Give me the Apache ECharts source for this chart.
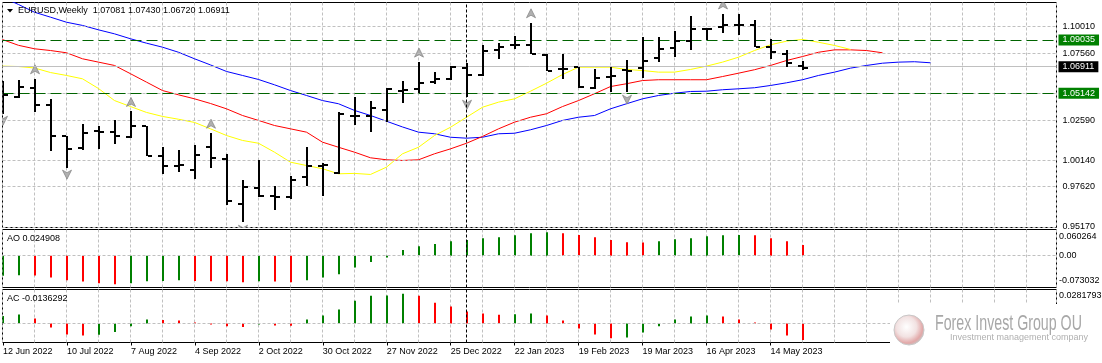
<!DOCTYPE html>
<html><head><meta charset="utf-8">
<script src="https://cdn.jsdelivr.net/npm/echarts@6/dist/echarts.min.js"></script>
<style>html,body{margin:0;padding:0;background:#fff}#c{width:1102px;height:363px}</style>
</head><body><div id="c"></div>
<script>
const symbolName = 'EURUSD,Weekly';
const dateLabels = ['12 Jun 2022','10 Jul 2022','7 Aug 2022','4 Sep 2022','2 Oct 2022','30 Oct 2022','27 Nov 2022','25 Dec 2022','22 Jan 2023','19 Feb 2023','19 Mar 2023','16 Apr 2023','14 May 2023'];
const open = [1.0506,1.0476,1.0539,1.0414,1.0177,1.0089,1.0216,1.0214,1.0171,1.0252,1.0029,0.9959,0.9927,1.0096,1.0009,0.9672,0.9789,0.9727,0.9720,0.9872,0.9954,0.9902,1.0329,1.0327,1.0377,1.0521,1.0534,1.0584,1.0604,1.0692,1.0641,1.0826,1.0864,1.0864,1.0784,1.0679,1.0696,1.0542,1.0626,1.0677,1.0689,1.0766,1.0838,1.0896,1.0984,1.0996,1.1014,1.1014,1.0846,1.0796,1.07081];
const high = [1.0596,1.0602,1.0609,1.0459,1.0184,1.0272,1.0259,1.0297,1.0364,1.0259,1.0096,1.0077,1.0114,1.0201,1.0047,0.9852,0.9997,0.9809,0.9877,1.0096,0.9977,1.0359,1.0476,1.0446,1.0542,1.0596,1.0734,1.0659,1.0704,1.0729,1.0866,1.0876,1.0928,1.1029,1.0797,1.0796,1.0701,1.0684,1.0701,1.0752,1.0926,1.0926,1.0971,1.1078,1.0991,1.1095,1.1091,1.1051,1.0904,1.0826,1.07430];
const low = [1.0351,1.0467,1.0359,1.0066,0.9947,1.0079,1.0089,1.0117,1.0159,1.0032,0.9897,0.9909,0.9860,0.9939,0.9665,0.9534,0.9722,0.9629,0.9702,0.9804,0.9727,0.9892,1.0267,1.0216,1.0284,1.0434,1.0501,1.0572,1.0596,1.0471,1.0634,1.0754,1.0834,1.0796,1.0666,1.0609,1.0542,1.0534,1.0516,1.0509,1.0621,1.0741,1.0776,1.0821,1.0901,1.0951,1.0934,1.0846,1.0754,1.0696,1.06720];
const close = [1.0489,1.0546,1.0416,1.0184,1.0084,1.0201,1.0214,1.0177,1.0257,1.0034,0.9959,0.9961,1.0039,1.0017,0.9692,0.9797,0.9734,0.9722,0.9854,0.9959,0.9960,1.0347,1.0331,1.0389,1.0534,1.0523,1.0576,1.0604,1.0696,1.0641,1.0821,1.0846,1.0866,1.0797,1.0671,1.0681,1.0546,1.0617,1.0628,1.0666,1.0746,1.0829,1.0896,1.0979,1.0986,1.1009,1.1016,1.0848,1.0808,1.0729,1.06911];
const lips = [1.0704,1.0701,1.0690,1.0656,1.0634,1.0609,1.0536,1.0446,1.0401,1.0357,1.0327,1.0306,1.0282,1.0234,1.0184,1.0147,1.0126,1.0059,0.9984,0.9959,0.9935,0.9897,0.9900,0.9892,0.9947,1.0047,1.0096,1.0184,1.0246,1.0321,1.0396,1.0434,1.0459,1.0516,1.0576,1.0641,1.0696,1.0696,1.0696,1.0679,1.0671,1.0659,1.0659,1.0679,1.0704,1.0734,1.0771,1.0821,1.0864,1.0891,1.0904,1.0883,1.0859,1.0829];
const teeth = [1.0903,1.0860,1.0834,1.0821,1.0804,1.0759,1.0734,1.0709,1.0647,1.0584,1.0521,1.0489,1.0459,1.0424,1.0384,1.0334,1.0297,1.0259,1.0234,1.0209,1.0134,1.0096,1.0059,1.0017,1.0002,0.9997,1.0002,1.0047,1.0084,1.0126,1.0177,1.0234,1.0284,1.0321,1.0347,1.0401,1.0446,1.0497,1.0551,1.0572,1.0596,1.0602,1.0602,1.0602,1.0602,1.0626,1.0651,1.0677,1.0709,1.0746,1.0776,1.0808,1.0826,1.0826,1.0821,1.0804];
const jaw = [1.1220,1.1166,1.1108,1.1071,1.1033,1.1009,1.0976,1.0946,1.0909,1.0876,1.0846,1.0808,1.0759,1.0713,1.0664,1.0634,1.0604,1.0564,1.0521,1.0484,1.0446,1.0422,1.0372,1.0334,1.0291,1.0248,1.0209,1.0197,1.0171,1.0164,1.0171,1.0197,1.0201,1.0227,1.0259,1.0297,1.0321,1.0334,1.0384,1.0422,1.0459,1.0484,1.0501,1.0514,1.0516,1.0527,1.0534,1.0542,1.0559,1.0579,1.0602,1.0634,1.0659,1.0689,1.0709,1.0726,1.0734,1.0737,1.0729];
const aoValues = [-0.0463,-0.0448,-0.0452,-0.0502,-0.0563,-0.0594,-0.0633,-0.0656,-0.0633,-0.0586,-0.0583,-0.0563,-0.0580,-0.0584,-0.0588,-0.0610,-0.0586,-0.0590,-0.0610,-0.0563,-0.0502,-0.0424,-0.0270,-0.0147,-0.0039,0.0131,0.0216,0.0270,0.0332,0.0363,0.0401,0.0424,0.0471,0.0517,0.0540,0.0517,0.0478,0.0424,0.0363,0.0309,0.0305,0.0332,0.0378,0.0401,0.0448,0.0468,0.0475,0.0471,0.0401,0.0332,0.024908];
const acValues = [0.0063,0.0074,0.0041,-0.0033,-0.0091,-0.0099,-0.0094,-0.0071,-0.0022,0.0033,0.0030,0.0025,0.0008,-0.0005,-0.0022,-0.0030,-0.0005,-0.0016,-0.0019,0.0033,0.0066,0.0115,0.0189,0.0230,0.0232,0.0247,0.0230,0.0173,0.0140,0.0099,0.0082,0.0073,0.0076,0.0082,0.0066,0.0025,-0.0041,-0.0091,-0.0123,-0.0115,-0.0074,-0.0022,0.0033,0.0058,0.0066,0.0058,0.0033,0.0008,-0.0049,-0.0099,-0.0136292];
const fractalUp = [2,8,13,26,33,45];
const fractalDown = [0,4,15,29,39];
const priceTicks = [1.10010,1.07560,1.05080,1.02590,1.00140,0.97620,0.95170];
const priceTickLabels = ['1.10010','1.07560','','1.02590','1.00140','0.97620','0.95170'];
const levelLines = [1.09035,1.05142];
const separatorBar = 29;
const aoAxisLabels = ['0.060264','0.00','-0.073032'];
const acAxisLabels = ['0.0281793'];

const FONT = "'Liberation Sans', Arial, sans-serif";
const GREEN = '#008000', RED = '#ff0000';
const X_MAX = 65.875;
const last = close.length - 1;

const ohlcData = open.map((o,i)=>[i,o,high[i],low[i],close[i]]);
const aoData = aoValues.map((v,i)=>[i,v,(i===0||v>=aoValues[i-1])?1:0]);
const acData = acValues.map((v,i)=>[i,v,(i===0||v>=acValues[i-1])?1:0]);

function clipOf(params){const c=params.coordSys;return {type:'rect',shape:{x:c.x,y:c.y,width:c.width,height:c.height}};}

function renderOHLC(params, api){
  const i=api.value(0);
  const pO=api.coord([i,api.value(1)]), pH=api.coord([i,api.value(2)]), pL=api.coord([i,api.value(3)]), pC=api.coord([i,api.value(4)]);
  const x=Math.round(pO[0]);
  return {type:'group', clipPath:clipOf(params), children:[
    {type:'rect',shape:{x:x-1,y:Math.round(pH[1]),width:2,height:Math.max(1,Math.round(pL[1]-pH[1]))},style:{fill:'#000'}},
    {type:'rect',shape:{x:x-5,y:Math.round(pO[1])-1,width:4,height:2},style:{fill:'#000'}},
    {type:'rect',shape:{x:x+1,y:Math.round(pC[1])-1,width:4,height:2},style:{fill:'#000'}}
  ]};
}
function renderHist(params, api){
  const i=api.value(0), v=api.value(1);
  const p0=api.coord([i,0]), p1=api.coord([i,v]);
  const x=Math.round(p0[0]);
  return {type:'rect', clipPath:clipOf(params), shape:{x:x-1,y:Math.min(p0[1],p1[1]),width:2,height:Math.max(1,Math.abs(p1[1]-p0[1]))},style:{fill:api.value(2)?GREEN:RED}};
}
function renderFractal(dir){
  return function(params, api){
    const p=api.coord([api.value(0),api.value(1)]);
    const cx=Math.round(p[0]);
    let pts;
    if(dir>0){const cy=p[1]-9.5;pts=[[cx,cy-4.5],[cx+4.5,cy+4.5],[cx,cy+2],[cx-4.5,cy+4.5]];}
    else{const cy=p[1]+7.5;pts=[[cx-4.5,cy-4.5],[cx,cy-2],[cx+4.5,cy-4.5],[cx,cy+4.5]];}
    return {type:'polygon', clipPath:clipOf(params), shape:{points:pts}, style:{fill:'#b0b0b0',stroke:'#808080',lineWidth:0.7}};
  };
}

const dashGray = {color:'#c0c0c0',type:[3,2],width:1};
const sepLine = {xAxis:separatorBar, lineStyle:{color:'#000',type:[3,2],width:1}, label:{show:false}};

const splitX = gi => ({type:'value',gridIndex:gi,min:0,max:X_MAX,interval:2,axisLine:{show:false},axisTick:{show:false},axisLabel:{show:false},splitLine:{show:true,lineStyle:dashGray}});
const hiddenY = (gi,min,max) => ({type:'value',gridIndex:gi,min:min,max:max,position:'right',axisLine:{show:false},axisTick:{show:false},axisLabel:{show:false},splitLine:{show:false}});

const option = {
  animation:false,
  backgroundColor:'#fff',
  textStyle:{fontFamily:FONT},
  grid:[
    {left:2.5,top:2.5,width:1054,height:225,show:true,borderColor:'#000',borderWidth:1},
    {left:2.5,top:229.5,width:1054,height:58,show:true,borderColor:'#000',borderWidth:1},
    {left:2.5,top:289.5,width:1054,height:53,show:true,borderColor:'#000',borderWidth:1},
    {left:2.5,top:289.5,width:768,height:53,show:false}
  ],
  xAxis:[splitX(0),splitX(1),splitX(2),
    {type:'value',gridIndex:3,min:0,max:48,interval:4,position:'bottom',axisLine:{show:false},splitLine:{show:false},
     axisTick:{show:true,length:3,lineStyle:{color:'#000'}},
     axisLabel:{show:true,margin:5,fontSize:9,color:'#000',fontFamily:FONT,align:'left',showMinLabel:true,showMaxLabel:true,hideOverlap:false,
       formatter:function(v){const k=Math.round(v/4);return (Math.abs(v-4*k)<1e-6&&k<dateLabels.length)?dateLabels[k]:'';}}}
  ],
  yAxis:[hiddenY(0,0.94945,1.11809),hiddenY(1,-0.073032,0.060264),hiddenY(2,-0.015747,0.0281793),{type:'value',gridIndex:3,show:false,min:0,max:1}],
  series:[
    {type:'line',xAxisIndex:0,yAxisIndex:0,data:[],z:1,silent:true,
     markLine:{silent:true,symbol:['none','none'],animation:false,
       data:priceTicks.map((v,k)=>({yAxis:v,lineStyle:dashGray,
         label:priceTickLabels[k]?{show:true,position:'end',distance:6,formatter:priceTickLabels[k],color:'#000',fontSize:9,fontFamily:FONT}:{show:false}}))}},
    {type:'line',xAxisIndex:0,yAxisIndex:0,data:[],z:2,silent:true,
     markLine:{silent:true,symbol:['none','none'],animation:false,
       data:[
         {yAxis:close[last],lineStyle:{color:'#c0c0c0',type:'solid',width:1},
          label:{show:true,position:'end',distance:2,formatter:close[last].toFixed(5),color:'#fff',backgroundColor:'#000',padding:[1,4,0,4],lineHeight:10,fontSize:9,fontFamily:FONT}},
         ...levelLines.map(v=>({yAxis:v,lineStyle:{color:'#006400',type:[11,5],width:1},
          label:{show:true,position:'end',distance:2,formatter:v.toFixed(5),color:'#fff',backgroundColor:'#008000',padding:[1,4,0,4],lineHeight:10,fontSize:9,fontFamily:FONT}})),
         sepLine
       ]}},
    {type:'line',xAxisIndex:0,yAxisIndex:0,data:jaw.map((v,i)=>[i,v]),showSymbol:false,symbol:'none',z:3,lineStyle:{color:'#0000ff',width:1},silent:true},
    {type:'line',xAxisIndex:0,yAxisIndex:0,data:teeth.map((v,i)=>[i,v]),showSymbol:false,symbol:'none',z:3,lineStyle:{color:'#ff0000',width:1},silent:true},
    {type:'line',xAxisIndex:0,yAxisIndex:0,data:lips.map((v,i)=>[i,v]),showSymbol:false,symbol:'none',z:3,lineStyle:{color:'#ffff00',width:1},silent:true},
    {type:'custom',xAxisIndex:0,yAxisIndex:0,data:fractalUp.map(i=>[i,high[i]]),renderItem:renderFractal(1),z:4,silent:true},
    {type:'custom',xAxisIndex:0,yAxisIndex:0,data:fractalDown.map(i=>[i,low[i]]),renderItem:renderFractal(-1),z:4,silent:true},
    {type:'custom',xAxisIndex:0,yAxisIndex:0,data:ohlcData,renderItem:renderOHLC,z:5,silent:true},
    {type:'custom',xAxisIndex:1,yAxisIndex:1,data:aoData,renderItem:renderHist,z:3,silent:true,
     markLine:{silent:true,symbol:['none','none'],animation:false,data:[{yAxis:0,lineStyle:dashGray,label:{show:false}},sepLine]}},
    {type:'custom',xAxisIndex:2,yAxisIndex:2,data:acData,renderItem:renderHist,z:3,silent:true,
     markLine:{silent:true,symbol:['none','none'],animation:false,data:[{yAxis:0,lineStyle:dashGray,label:{show:false}},sepLine]}}
  ]
};

const chart = echarts.init(document.getElementById('c'), null, {renderer:'canvas',width:1102,height:363});
chart.setOption(option);

const aoTop = chart.convertToPixel({yAxisIndex:1}, 0.060264);
const aoZero = chart.convertToPixel({yAxisIndex:1}, 0);
const aoBot = chart.convertToPixel({yAxisIndex:1}, -0.073032);
const acTop = chart.convertToPixel({yAxisIndex:2}, 0.0281793);
const txt = (x,y,t,extra) => Object.assign({type:'text',x:x,y:y,silent:true,z:50,style:Object.assign({text:t,fill:'#000',font:'9px '+FONT,textVerticalAlign:'middle'},extra||{})});

chart.setOption({graphic:[
  {type:'polygon',silent:true,z:50,shape:{points:[[7,9],[13,9],[10,12.5]]},style:{fill:'#000'}},
  txt(18,11,symbolName+'  '+[open[last],high[last],low[last],close[last]].map(v=>v.toFixed(5)).join(' ')),
  txt(7,239,'AO '+aoValues[last]),
  txt(7,299,'AC '+acValues[last]),
  txt(1059,aoTop+7,aoAxisLabels[0]),
  txt(1059,aoZero,aoAxisLabels[1]),
  txt(1059,aoBot-7,aoAxisLabels[2]),
  txt(1059,acTop+6,acAxisLabels[0]),
  {type:'rect',silent:true,z:60,shape:{x:890,y:304,width:212,height:46},style:{fill:'#fff'}},
  {type:'circle',silent:true,z:61,shape:{cx:909,cy:330,r:15},style:{fill:{type:'radial',x:0.42,y:0.4,r:0.65,colorStops:[{offset:0,color:'#ffffff'},{offset:0.5,color:'#f2e2e2'},{offset:0.8,color:'#e2a8a8'},{offset:1,color:'#c6c6c6'}]},stroke:'#c8c8c8',lineWidth:1}},
  {type:'text',silent:true,z:61,x:935,y:324,scaleX:0.646,style:{text:'Forex Invest Group OU',fill:'#a8a8a8',font:'22px '+FONT,textVerticalAlign:'middle'}},
  {type:'text',silent:true,z:61,x:950,y:338,style:{text:'Investment management company',fill:'#b0b0b0',font:'9px '+FONT,textVerticalAlign:'middle'}}
]});
</script></body></html>
